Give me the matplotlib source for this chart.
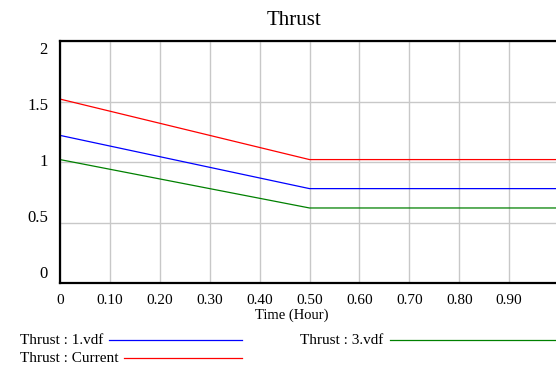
import matplotlib
matplotlib.use("Agg")
import matplotlib.pyplot as plt
from matplotlib.lines import Line2D

plt.rcParams['font.family'] = ['Liberation Serif', 'DejaVu Serif']

time = [0.0, 0.5, 1.0]
thrust_1 = [1.22, 0.78, 0.78]
thrust_3 = [1.02, 0.62, 0.62]
thrust_current = [1.52, 1.02, 1.02]
xticks = [0, 0.1, 0.2, 0.3, 0.4, 0.5, 0.6, 0.7, 0.8, 0.9]
xticklabels = ["0", "0.10", "0.20", "0.30", "0.40", "0.50", "0.60", "0.70", "0.80", "0.90"]
yticks = [0, 0.5, 1, 1.5, 2]
yticklabels = ["0", "0.5", "1", "1.5", "2"]

W, H = 556, 367
fig = plt.figure(figsize=(W / 100, H / 100), dpi=100)
ax = fig.add_axes([60 / W, 1 - 283 / H, (559 - 60) / W, (283 - 41) / H])

ax.plot(time, thrust_1, color='#0000ff', lw=0.9)
ax.plot(time, thrust_3, color='#008000', lw=0.9)
ax.plot(time, thrust_current, color='#ff0000', lw=0.9)

ax.set_xlim(0, 1)
ax.set_ylim(0, 2)
ax.set_xticks(xticks)
ax.set_xticklabels(xticklabels, fontsize=11)
ax.set_yticks(yticks)
ax.tick_params(length=0, labelleft=False)
ax.tick_params(axis='x', pad=8)
ax.grid(True, color='#c8c8c8', lw=1)
ax.set_axisbelow(True)
for s in ax.spines.values():
    s.set_linewidth(1.6)
    s.set_color('black')

# Vensim-style y labels: spread evenly inside the plot height
m = len(yticklabels)
for i, lab in enumerate(yticklabels):
    y = 274 - i * (274 - 50) / (m - 1)
    fig.text(48 / W, 1 - y / H, lab, ha='right', va='center', fontsize=12)

fig.text(294 / W, 1 - 25 / H, "Thrust", ha='center', va='baseline', fontsize=15)
fig.text(292 / W, 1 - 315 / H, "Time (Hour)", ha='center', va='center', fontsize=10.5)

# legend
fig.text(20 / W, 1 - 341 / H, "Thrust : 1.vdf", ha='left', va='center', fontsize=11)
fig.add_artist(Line2D([109 / W, 242 / W], [1 - 340 / H, 1 - 340 / H], color='#0000ff', lw=0.9))
fig.text(300 / W, 1 - 341 / H, "Thrust : 3.vdf", ha='left', va='center', fontsize=11)
fig.add_artist(Line2D([390 / W, 1.0], [1 - 340 / H, 1 - 340 / H], color='#008000', lw=0.9))
fig.text(20 / W, 1 - 359 / H, "Thrust : Current", ha='left', va='center', fontsize=11)
fig.add_artist(Line2D([124 / W, 242 / W], [1 - 358 / H, 1 - 358 / H], color='#ff0000', lw=0.9))

fig.savefig("out.png", dpi=100)
